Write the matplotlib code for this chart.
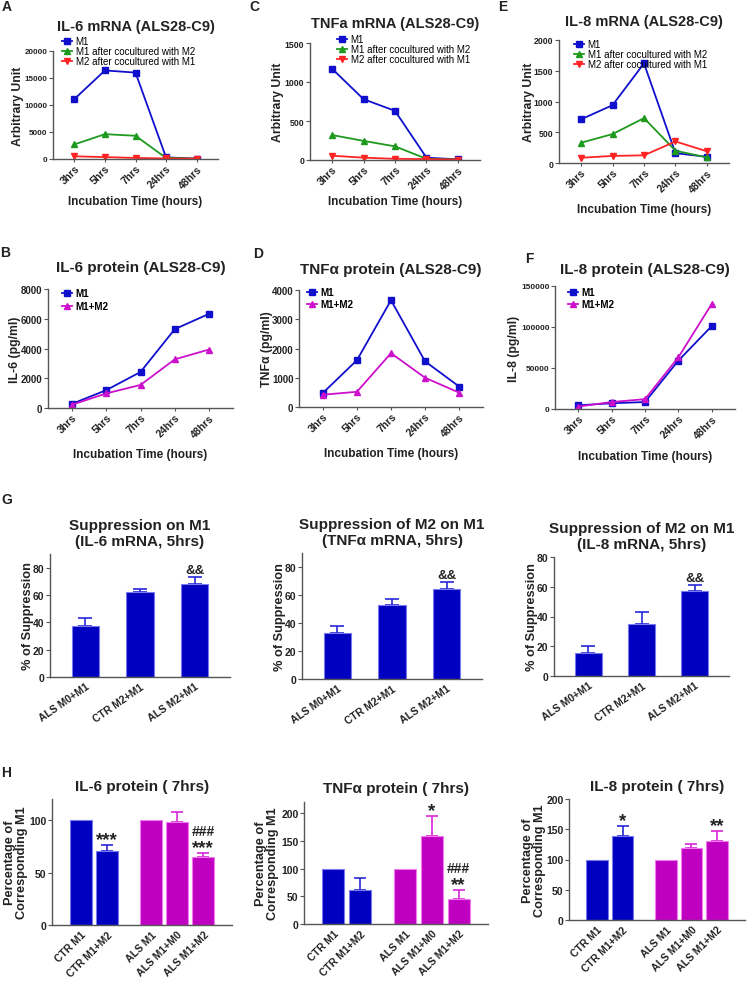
import matplotlib
matplotlib.use('Agg')
import matplotlib.pyplot as plt

plt.rcParams['font.family'] = ['Liberation Sans', 'DejaVu Sans']
plt.rcParams['font.weight'] = 'bold'
plt.rcParams['axes.labelweight'] = 'bold'

W, H = 747, 987

times = ['3hrs', '5hrs', '7hrs', '24hrs', '48hrs']

# mRNA, arbitrary unit
il6_mrna_m1 = [11100, 16400, 16000, 300, 60]
il6_mrna_m1_co = [2700, 4600, 4300, 200, 60]
il6_mrna_m2_co = [500, 350, 200, 100, 80]
tnf_mrna_m1 = [1170, 780, 630, 30, 8]
tnf_mrna_m1_co = [320, 245, 175, 15, 5]
tnf_mrna_m2_co = [55, 30, 15, 12, 5]
il8_mrna_m1 = [710, 940, 1620, 160, 100]
il8_mrna_m1_co = [330, 470, 730, 200, 90]
il8_mrna_m2_co = [85, 115, 125, 350, 190]
mrna_labels = ['M1', 'M1 after cocultured with M2', 'M2 after cocultured with M1']

# protein, pg/ml
il6_prot_m1 = [280, 1200, 2420, 5300, 6330]
il6_prot_m1m2 = [220, 980, 1550, 3270, 3930]
tnf_prot_m1 = [480, 1600, 3650, 1560, 700]
tnf_prot_m1m2 = [420, 520, 1840, 1000, 490]
il8_prot_m1 = [4500, 7000, 8500, 59000, 101000]
il8_prot_m1m2 = [3000, 8500, 12000, 63000, 128000]
prot_labels = ['M1', 'M1+M2']

# G: % of suppression (5 hrs)
supp_groups = ['ALS M0+M1', 'CTR M2+M1', 'ALS M2+M1']
supp_il6 = [37, 62, 68]
supp_il6_err = [6, 2.5, 5]
supp_tnf = [33, 53, 64]
supp_tnf_err = [5, 4, 5]
supp_il8 = [15.5, 35, 57]
supp_il8_err = [5, 8, 4]
supp_marks = ['', '', '&&']

# H: percentage of corresponding M1 (7 hrs)
prot_groups = ['CTR M1', 'CTR M1+M2', 'ALS M1', 'ALS M1+M0', 'ALS M1+M2']
h_il6 = [100, 70.5, 100, 98, 65]
h_il6_err = [0, 5.5, 0, 9.5, 4]
h_il6_marks = ['', '***', '', '', '###\n***']
h_tnf = [100, 61, 100, 158.5, 45.5]
h_tnf_err = [0, 22, 0, 36.5, 16.5]
h_tnf_marks = ['', '', '', '*', '###\n**']
h_il8 = [100, 139.5, 100, 119, 130.5]
h_il8_err = [0, 16.5, 0, 6.5, 17]
h_il8_marks = ['', '*', '', '', '**']

BLUE = '#1010CC'
GREEN = '#1E9A1E'
RED = '#FF2424'
MAG = '#CC10CC'
BAR_BLUE = '#0000C0'
BAR_MAG = '#C000C0'
SPINE = '#555555'
TXT = '#222222'

fig = plt.figure(figsize=(W / 100, H / 100), dpi=100)


def px_axes(l, t, r, b):
    ax = fig.add_axes([l / W, 1 - b / H, (r - l) / W, (b - t) / H])
    ax.spines['top'].set_visible(False)
    ax.spines['right'].set_visible(False)
    for s in ['left', 'bottom']:
        ax.spines[s].set_color(SPINE)
        ax.spines[s].set_linewidth(1.0)
    ax.tick_params(colors=SPINE, width=0.8, length=3, pad=1)
    ax.set_facecolor('none')
    return ax


def fig_text(x, y, s, size, **kw):
    fig.text(x / W, 1 - y / H, s, fontsize=size, fontweight='bold',
             ha=kw.pop('ha', 'center'), va=kw.pop('va', 'center'), **kw)


def label_pos(ax, box, ylab_x, xlab_y=None):
    # label centres given in figure pixels
    l, t, r, b = box
    ax.yaxis.label.set_verticalalignment('center')
    ax.yaxis.set_label_coords((ylab_x - l) / (r - l), 0.5)
    if xlab_y is not None:
        ax.xaxis.label.set_verticalalignment('center')
        ax.xaxis.set_label_coords(0.5, (b - xlab_y) / (b - t))


def line_panel(box, series, labels, markers, colors, ylim, ystep, ylabel,
               title, title_y, title_fs, ylab_x, xlab_y, tick_fs, leg_xy,
               leg_fs, leg_weight, leg_space):
    ax = px_axes(*box)
    x = range(len(times))
    for ys, lab, m, c in zip(series, labels, markers, colors):
        ax.plot(x, ys, color=c, marker=m, markersize=4.5, lw=1.3, label=lab)
    ax.set_xlim(-0.7, 4.7)
    ax.set_ylim(0, ylim)
    ax.set_yticks(range(0, ylim + 1, ystep))
    ax.set_xticks(list(x))
    ax.set_xticklabels(times, rotation=45, ha='right', rotation_mode='anchor',
                       fontsize=7.5, color=TXT)
    ax.tick_params(axis='x', length=2)
    for t in ax.get_yticklabels():
        t.set_fontsize(tick_fs)
        t.set_color(TXT)
    ax.set_ylabel(ylabel, fontsize=8.8, color=TXT)
    ax.set_xlabel('Incubation Time (hours)', fontsize=8.5, color=TXT)
    label_pos(ax, box, ylab_x, xlab_y)
    fig_text((box[0] + box[2]) / 2, title_y, title, title_fs, color=TXT)
    ax.legend(loc='upper left', bbox_to_anchor=(leg_xy[0] / W, 1 - leg_xy[1] / H),
              bbox_transform=fig.transFigure, frameon=False, borderpad=0,
              borderaxespad=0, handlelength=1.0, handletextpad=0.4,
              labelspacing=leg_space,
              prop={'size': leg_fs, 'weight': leg_weight})
    return ax


# font size and baseline offset (points above error bar top) per mark type
MARK_STYLE = {'*': (13.5, 0.5), '&': (9.5, 3.0), '#': (10, 12.5)}


def bar_panel(box, vals, errs, groups, positions, colors, xlim, width, ylim,
              ystep, ylabel, title, title_y, title_fs, ylab_x, rot, marks,
              capsize):
    ax = px_axes(*box)
    edge = ['#7A7AF0' if c == BAR_BLUE else '#F07AF0' for c in colors]
    err_col = ['#2828D8' if c == BAR_BLUE else '#D828D8' for c in colors]
    ax.bar(positions, vals, width=width, color=colors, edgecolor=edge,
           linewidth=0.8, zorder=2)
    for p, v, e, c in zip(positions, vals, errs, err_col):
        if e > 0:
            ax.errorbar(p, v, yerr=[[0], [e]], color=c, lw=1.2,
                        capsize=capsize, capthick=1.2, zorder=1)
    for p, v, e, m in zip(positions, vals, errs, marks):
        for line in m.split('\n') if m else []:
            fs, off = MARK_STYLE[line[0]]
            ax.annotate(line, (p, v + e), xytext=(0, off),
                        textcoords='offset points', ha='center', va='baseline',
                        fontsize=fs, fontweight='bold', color=TXT)
    ax.set_xlim(*xlim)
    ax.set_ylim(0, ylim)
    ax.set_yticks(range(0, ylim + 1, ystep))
    ax.set_xticks(positions)
    ax.set_xticklabels(groups, rotation=rot, ha='right', rotation_mode='anchor',
                       fontsize=7.5, color=TXT)
    ax.tick_params(axis='x', length=0, pad=3)
    for t in ax.get_yticklabels():
        t.set_fontsize(7.5)
        t.set_color(TXT)
    ax.set_ylabel(ylabel, fontsize=9.2, linespacing=0.95, color=TXT)
    label_pos(ax, box, ylab_x)
    fig_text((box[0] + box[2]) / 2, title_y, title, title_fs, linespacing=1.2,
             color=TXT)
    return ax


mk3 = ['s', '^', 'v']
col3 = [BLUE, GREEN, RED]
mk2 = ['s', '^']
col2 = [BLUE, MAG]

# row 1: mRNA
line_panel((53, 52, 218, 160), [il6_mrna_m1, il6_mrna_m1_co, il6_mrna_m2_co],
           mrna_labels, mk3, col3, 20000, 5000, 'Arbitrary Unit',
           'IL-6 mRNA (ALS28-C9)', 27, 10.5, 18, 202, 5.8, (62, 37), 7,
           'normal', 0.0)
line_panel((310, 44, 480, 161), [tnf_mrna_m1, tnf_mrna_m1_co, tnf_mrna_m2_co],
           mrna_labels, mk3, col3, 1500, 500, 'Arbitrary Unit',
           'TNFa mRNA (ALS28-C9)', 24, 10.5, 278, 202, 6.3, (337, 35), 7,
           'normal', 0.0)
line_panel((559, 41, 729, 164), [il8_mrna_m1, il8_mrna_m1_co, il8_mrna_m2_co],
           mrna_labels, mk3, col3, 2000, 500, 'Arbitrary Unit',
           'IL-8 mRNA (ALS28-C9)', 22, 10.5, 529, 210, 6.3, (574, 40), 7,
           'normal', 0.0)

# row 2: protein
line_panel((48, 290, 233, 409), [il6_prot_m1, il6_prot_m1m2], prot_labels,
           mk2, col2, 8000, 2000, 'IL-6 (pg/ml)', 'IL-6 protein (ALS28-C9)',
           268, 11, 15, 455, 7.0, (62, 289), 7.1, 'bold', 0.35)
line_panel((299, 291, 483, 408), [tnf_prot_m1, tnf_prot_m1m2], prot_labels,
           mk2, col2, 4000, 1000, 'TNFα (pg/ml)', 'TNFα protein (ALS28-C9)',
           270, 11, 267, 454, 7.0, (307, 288), 7.1, 'bold', 0.2)
line_panel((555, 287, 735, 410), [il8_prot_m1, il8_prot_m1m2], prot_labels,
           mk2, col2, 150000, 50000, 'IL-8 (pg/ml)', 'IL-8 protein (ALS28-C9)',
           270, 11, 514, 457, 6.0, (568, 288), 7.1, 'bold', 0.2)

# row 3: suppression
g_pos = [0, 1, 2]
g_col = [BAR_BLUE] * 3
bar_panel((50, 555, 230, 678), supp_il6, supp_il6_err, supp_groups, g_pos, g_col,
          (-0.65, 2.65), 0.5, 90, 20, '% of Suppression',
          'Suppression on M1\n(IL-6 mRNA, 5hrs)', 534, 11, 28, 35, supp_marks, 5)
bar_panel((302, 554, 482, 680), supp_tnf, supp_tnf_err, supp_groups, g_pos, g_col,
          (-0.65, 2.65), 0.5, 90, 20, '% of Suppression',
          'Suppression of M2 on M1\n(TNFα mRNA, 5hrs)', 533, 11, 280, 35,
          supp_marks, 5)
bar_panel((554, 558, 729, 677), supp_il8, supp_il8_err, supp_groups, g_pos, g_col,
          (-0.65, 2.65), 0.5, 80, 20, '% of Suppression',
          'Suppression of M2 on M1\n(IL-8 mRNA, 5hrs)', 537, 11, 532, 35,
          supp_marks, 5)

# row 4: protein relative to M1
h_pos = [0, 1, 2.7, 3.7, 4.7]
h_col = [BAR_BLUE, BAR_BLUE, BAR_MAG, BAR_MAG, BAR_MAG]
h_ylab = 'Percentage of\nCorresponding M1'
bar_panel((52, 800, 232, 926), h_il6, h_il6_err, prot_groups, h_pos, h_col,
          (-1.1, 5.8), 0.83, 120, 50, h_ylab, 'IL-6 protein ( 7hrs)', 787, 11,
          16, 45, h_il6_marks, 4.3)
bar_panel((304, 803, 488, 925), h_tnf, h_tnf_err, prot_groups, h_pos, h_col,
          (-1.1, 5.8), 0.83, 220, 50, h_ylab, 'TNFα protein ( 7hrs)', 789, 11,
          267, 45, h_tnf_marks, 4.3)
bar_panel((569, 800, 745, 921), h_il8, h_il8_err, prot_groups, h_pos, h_col,
          (-1.1, 5.8), 0.83, 200, 50, h_ylab, 'IL-8 protein ( 7hrs)', 787, 11,
          534, 45, h_il8_marks, 4.3)

# panel letters
for letter, lx, ly in [('A', 7, 7), ('C', 254, 7), ('E', 503, 7),
                       ('B', 5, 253), ('D', 258, 254), ('F', 529, 259),
                       ('G', 7, 500), ('H', 6, 773)]:
    fig_text(lx, ly, letter, 10, color=TXT)

fig.savefig('out.png', dpi=100)
